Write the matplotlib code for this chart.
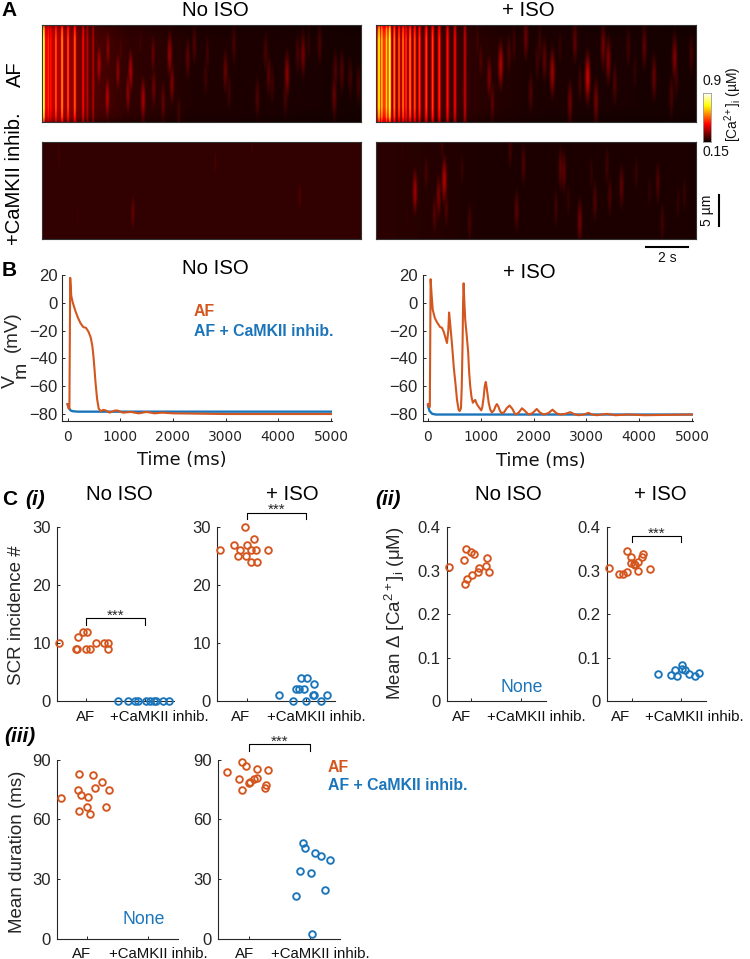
import numpy as np
import matplotlib
matplotlib.use('Agg')
import matplotlib.pyplot as plt

plt.rcParams['font.family'] = ['Liberation Sans', 'DejaVu Sans']
plt.rcParams['mathtext.default'] = 'regular'
W, H = 750, 959
ORANGE = '#D4561F'
BLUE = '#1B75BB'
DARK = '#262626'

# ---- Panel A: line-scan content (time s, level 0-1 on the hot scale) ----
af_env_t = [0, 0.5, 1.5, 2.5, 4, 7, 15]
af_env_v = [0.38, 0.28, 0.17, 0.10, 0.06, 0.035, 0.02]
af_stripe_t = [0.06, 0.27, 0.39, 0.63, 0.92, 1.2, 1.52, 1.91, 2.11, 2.38]
af_stripe_v = [0.80, 0.44, 0.40, 0.50, 0.58, 0.48, 0.50, 0.36, 0.26, 0.24]
af_spark_t = [2.66, 3.08, 3.05, 3.55, 4.14, 4.02, 4.73, 5.2, 5.23, 5.98, 6.09, 5.67, 2.39, 1.8, 6.83, 7.14, 3.67, 4.61, 2.73, 6.41,
              9.0, 7.75, 8.6, 10.49, 10.64, 11.5, 11.42, 12.25, 12.0, 13.03, 10.1, 13.77, 14.08, 13.72, 14.47, 14.86, 8.77, 7.67, 12.52, 10.8]
af_spark_y = [.41, .25, .75, .48, .48, .7, .77, .3, .65, .3, .6, .79, .61, .68, .34, .2, .25, .18, .1, .89,
              .2, .3, .48, .28, .51, .51, .73, .3, .3, .2, .75, .48, .48, .73, .54, .61, .68, .54, .2, .61]
af_spark_v = [.24, .18, .24, .18, .22, .18, .22, .13, .14, .2, .16, .13, .2, .16, .12, .10, .10, .08, .08, .08,
              .09, .08, .13, .09, .11, .18, .09, .15, .09, .09, .10, .10, .10, .13, .08, .08, .08, .08, .06, .08]

iso_env_t = [0, 0.65, 0.75, 2, 3.5, 5, 7, 15]
iso_env_v = [0.45, 0.45, 0.18, 0.12, 0.07, 0.045, 0.03, 0.02]
iso_stripe_t = [.12, .25, .47, .62, .84, 1.06, 1.25, 1.39, 1.58, 1.8, 2.02, 2.34, 2.64, 2.95, 3.34, 3.69, 4.16]
iso_stripe_v = [.75, .68, .70, .82, .56, .50, .54, .44, .54, .48, .44, .46, .46, .42, .38, .34, .27]
iso_spark_t = [5.84, 5.3, 5.45, 4.13, 4.9, 6.23, 7.02, 7.25, 6.47, 4.75, 7.56,
               8.27, 7.9, 9.33, 9.93, 9.1, 10.32, 10.66, 10.9, 11.21, 12.59, 13.05, 14.02, 14.8, 13.87, 8.63, 9.57, 7.68, 11.84, 12.15, 14.1]
iso_spark_y = [.41, .54, .79, .68, .37, .3, .13, .7, .2, .17, .37,
               .49, .36, .17, .54, .8, .79, .22, .36, .61, .22, .54, .34, .3, .73, .23, .6, .2, .23, .48, .54]
iso_spark_v = [.24, .16, .12, .16, .10, .10, .14, .10, .08, .08, .08,
               .21, .12, .12, .28, .14, .15, .15, .17, .10, .12, .13, .17, .08, .09, .06, .08, .08, .08, .06, .08]

inh_env_t = [0, 15]
inh_env_v = [0.06, 0.06]
inh_spark_t = [4.25, 12.1, 8.12, .78, 9.84, 1.64]
inh_spark_y = [.73, .56, .21, .13, .04, .77]
inh_spark_v = [.13, .10, .09, .085, .08, .075]

inhiso_env_t = [0, 3, 5, 15]
inhiso_env_v = [0.05, 0.04, 0.03, 0.03]
inhiso_spark_t = [1.81, 3.19, 2.92, 2.73, 3.28, 2.33, 4.38, 6.59, 6.91, 6.28, 8.66, 8.81, 8.44, 9.56, 10.27, 10.97, 11.52, 10.84,
                  13.23, 12.22, 12.84, 13.44, 14.48, 14.17, 1.2, 4.02, 1.44, 3.08, 10.1, 9.02]
inhiso_spark_y = [.51, .39, .56, .75, .68, .32, .83, .71, .23, .08, .27, .3, .68, .82, .61, .56, .46, .25,
                  .42, .32, .51, .83, .54, .63, .08, .28, .78, .02, .32, .61]
inhiso_spark_v = [.21, .24, .16, .11, .10, .09, .09, .11, .10, .08, .12, .12, .08, .15, .10, .09, .12, .08,
                  .10, .065, .06, .08, .065, .06, .06, .065, .06, .08, .06, .06]
taper_y = [0, .04, .15, .85, .95, 1]
taper_v = [.65, .85, 1, 1, .85, .6]

# ---- Panel B: membrane potential traces ----
af_t = [0, 20, 35, 50, 70, 100, 150, 200, 250, 300, 350, 400, 440, 470, 490, 510, 530, 560, 590, 630, 680, 730, 800, 900, 950, 1050, 1200, 1350, 1500, 1650, 1800, 2000, 3000, 5000]
af_v = [-73, -76, -76, 18, 5, 0, -6, -11, -15, -17.5, -18, -21, -25, -31, -38, -47, -57, -69, -76, -78, -77, -77.5, -79, -77.5, -77.5, -79, -78.5, -79.5, -78.5, -79.5, -79, -79.5, -80, -80]
inh_t = [0, 30, 60, 100, 200, 5000]
inh_v = [-73, -76, -77.5, -78, -78.3, -78.3]
afiso_t = [0, 20, 35, 50, 70, 90, 130, 170, 230, 265, 300, 330, 360, 385, 400, 420, 455, 490, 520, 550, 580, 600, 625, 640, 655, 665, 675, 690, 705, 730, 760, 780, 800, 825, 850, 870, 895, 925, 960, 1010, 1030, 1055, 1075, 1095, 1115, 1150, 1180, 1210, 1250, 1280, 1305, 1330, 1360, 1390, 1440, 1490, 1545, 1600, 1640, 1665, 1720, 1780, 1840, 1905, 1980, 2060, 2120, 2190, 2280, 2360, 2430, 2505, 2600, 2695, 2770, 2850, 2950, 3040, 3110, 3200, 3380, 3550, 3800, 4100, 5000]
afiso_v = [-73, -75, -75, 17, 5, -5, -11, -14, -17.5, -18, -21, -25, -29, -20, -7, -15, -30, -47, -58, -70, -77, -78, -76, -60, -30, 0, 14, 0, -12, -22, -35, -50, -60, -68, -72, -71, -70, -73, -75, -77.5, -75, -68, -60, -57, -62, -72, -77, -79, -77.5, -74.5, -73, -74.5, -77.5, -79.5, -79, -76, -74, -76.5, -79.5, -80.5, -79, -76, -78, -80.5, -79.5, -76.5, -79, -80.5, -79.5, -77, -79.5, -80.5, -80, -78.8, -80.2, -81, -80.5, -79.3, -80.5, -81, -80, -81, -80.5, -81, -80.5]
inhiso_t = [0, 30, 80, 150, 5000]
inhiso_v = [-74, -78, -80, -80.5, -80.5]

# ---- Panel C: scatter data (x = 1 AF, 2 +CaMKII inhib.) ----
scr_no_af_x = [.54, .86, .95, 1.01, .82, .85, .99, 1.07, 1.16, 1.30, 1.37, 1.37]
scr_no_af_y = [10, 11, 12, 12, 9, 9, 9, 9, 10, 10, 10, 9]
scr_no_in_x = [1.55, 1.72, 1.84, 1.89, 2.02, 2.09, 2.16, 2.20, 2.32, 2.41]
scr_no_in_y = [0] * 10
scr_iso_af_x = [.55, .78, .89, .86, 1.01, .97, .99, 1.07, 1.15, 1.12, 1.08, 1.18, 1.37]
scr_iso_af_y = [26, 27, 26, 25, 27, 30, 25, 26, 26, 28, 24, 24, 26]
scr_iso_in_x = [1.54, 1.78, 1.83, 1.88, 1.92, 2.02, 1.98, 2.0, 2.15, 2.12, 2.15, 2.26, 2.37]
scr_iso_in_y = [1, 0, 2, 2, 4, 4, 2, 0, 3, 1, 1, 0, 1]

dca_no_af_x = [.55, .85, .89, 1.0, 1.05, 1.31, 1.30, 1.36, 1.16, 1.14, 1.01, .92, .88]
dca_no_af_y = [.309, .324, .349, .343, .339, .329, .311, .298, .306, .296, .29, .282, .27]
dca_iso_af_x = [.54, .74, .83, .90, .91, .99, .99, 1.05, 1.13, 1.14, 1.22, 1.24, 1.37, 1.08]
dca_iso_af_y = [.307, .293, .292, .297, .345, .331, .318, .316, .321, .30, .331, .339, .303, .313]
dca_iso_in_x = [1.54, 1.80, 1.87, 1.91, 2.01, 2.01, 2.08, 2.15, 2.27, 2.36]
dca_iso_in_y = [.063, .06, .071, .058, .084, .074, .072, .062, .058, .064]

dur_no_af_x = [.56, .85, .86, .90, .87, 1.0, 1.02, 1.05, 1.09, 1.13, 1.24, 1.31, 1.36]
dur_no_af_y = [70.6, 74.9, 82.8, 72.4, 64.4, 66.4, 71, 62.8, 82.5, 75.9, 78.6, 66, 74.9]
dur_iso_af_x = [.65, .84, .89, .95, .89, 1.0, 1.02, 1.08, 1.14, 1.13, 1.31, 1.28, 1.27]
dur_iso_af_y = [84, 80.1, 88.7, 87, 75, 78.4, 78.6, 80.1, 80.8, 85.1, 84.6, 77.1, 75.6]
dur_iso_in_x = [1.78, 1.84, 1.89, 1.92, 2.02, 2.09, 2.18, 2.33, 2.26, 2.04]
dur_iso_in_y = [21.6, 34.2, 48.1, 45.8, 32.8, 43.1, 41.7, 39.4, 24.6, 2.3]

x_tick_pos = [1, 2]
group_labels = ['AF', '+CaMKII inhib.']

fig = plt.figure(figsize=(W / 100, H / 100), dpi=100, facecolor='white')


def px_axes(x0, y0, x1, y1):
    return fig.add_axes([x0 / W, 1 - y1 / H, (x1 - x0) / W, (y1 - y0) / H])


def T(x, y, s, **kw):
    kw.setdefault('ha', 'center')
    kw.setdefault('va', 'center')
    return fig.text(x / W, 1 - y / H, s, **kw)


def scan(rect, env_t, env_v, stripe_t, stripe_v, spark_t, spark_y, spark_v, taper=True):
    ax = px_axes(*rect)
    tt = np.linspace(0, 15, 320)
    yy = np.linspace(0, 1, 97)
    prof = np.interp(yy, taper_y, taper_v) if taper else np.ones_like(yy)
    field = np.outer(prof, np.interp(tt, env_t, env_v))
    for t, v in zip(stripe_t, stripe_v):
        field = np.maximum(field, np.outer(prof, v * np.exp(-0.5 * ((tt - t) / 0.06) ** 2)))
    for t, y, v in zip(spark_t, spark_y, spark_v):
        g = v * np.outer(np.exp(-0.5 * ((yy - y) / 0.16) ** 2), np.exp(-0.5 * ((tt - t) / 0.09) ** 2))
        field = np.maximum(field, g)
    ax.imshow(field, cmap='hot', vmin=0, vmax=1, aspect='auto', interpolation='bilinear', extent=[0, 15, 1, 0])
    ax.set_xticks([])
    ax.set_yticks([])
    for s in ax.spines.values():
        s.set_linewidth(0.8)
        s.set_color('#333333')
    return ax


scan((41.5, 25, 361, 122), af_env_t, af_env_v, af_stripe_t, af_stripe_v, af_spark_t, af_spark_y, af_spark_v)
scan((376, 25, 696, 122), iso_env_t, iso_env_v, iso_stripe_t, iso_stripe_v, iso_spark_t, iso_spark_y, iso_spark_v)
scan((41.5, 142, 361, 239), inh_env_t, inh_env_v, [], [], inh_spark_t, inh_spark_y, inh_spark_v, taper=False)
scan((376, 142, 696, 239), inhiso_env_t, inhiso_env_v, [], [], inhiso_spark_t, inhiso_spark_y, inhiso_spark_v, taper=False)

cax = px_axes(702.5, 93, 710.5, 142)
cax.imshow(np.linspace(1, 0, 200)[:, None], cmap='hot', aspect='auto', vmin=0, vmax=1)
cax.set_xticks([])
cax.set_yticks([])
for s in cax.spines.values():
    s.set_linewidth(0.6)
    s.set_color('#999999')

T(712, 81, '0.9', fontsize=10, color='#111111')
T(716, 152, '0.15', fontsize=10, color='#111111')
T(733, 104, '[Ca$^{2\\!+}$]$_{i}$ (µM)', rotation=90, fontsize=10, color='#111111')
T(707, 210, '5 µm', rotation=90, fontsize=10, color='#111111')
T(667, 258, '2 s', fontsize=10, color='#111111')
fig.add_artist(plt.Line2D([719 / W, 719 / W], [1 - 195 / H, 1 - 226 / H], color='black', lw=1.5))
fig.add_artist(plt.Line2D([645.7 / W, 688 / W], [1 - 247 / H, 1 - 247 / H], color='black', lw=1.5))

T(9.5, 11, 'A', fontsize=15, fontweight='bold')
T(9.5, 270, 'B', fontsize=15, fontweight='bold')
T(10, 499, 'C', fontsize=15, fontweight='bold')
T(35, 499, '(i)', fontsize=15, fontweight='bold', fontstyle='italic')
T(388, 499, '(ii)', fontsize=15, fontweight='bold', fontstyle='italic')
T(20, 736, '(iii)', fontsize=15, fontweight='bold', fontstyle='italic')

T(215, 10, 'No ISO', fontsize=14.7)
T(528, 10, '+ ISO', fontsize=14.7)
T(15, 74, 'AF', rotation=90, fontsize=14.5)
T(15, 179, '+CaMKII inhib.', rotation=90, fontsize=14.5)


def style(ax, pad_y):
    for s in ('top', 'right'):
        ax.spines[s].set_visible(False)
    for s in ('left', 'bottom'):
        ax.spines[s].set_linewidth(0.8)
        ax.spines[s].set_color(DARK)
    ax.tick_params(direction='in', length=2.5, width=0.7, color=DARK, labelcolor=DARK, labelsize=12)
    ax.tick_params(axis='y', pad=pad_y)
    ax.patch.set_alpha(0)


def trace_axes(rect, t1, v1, t2, v2):
    ax = px_axes(*rect)
    ax.plot(t2, v2, color=BLUE, lw=1.7)
    ax.plot(t1, v1, color=ORANGE, lw=1.5)
    ax.set_xlim(-100, 5020)
    ax.set_ylim(-84.8, 20)
    ax.set_xticks(range(0, 5001, 1000))
    ax.set_yticks(range(-80, 21, 20))
    style(ax, 3.5)
    ax.tick_params(axis='x', pad=7)
    for lab in ax.get_xticklabels():
        lab.set_fontfamily('DejaVu Sans')
        lab.set_fontsize(10)
    return ax


trace_axes((62.3, 275, 332, 420.7), af_t, af_v, inh_t, inh_v)
trace_axes((422.7, 275, 693, 420.5), afiso_t, afiso_v, inhiso_t, inhiso_v)
T(182, 460, 'Time (ms)', fontsize=12.8, family='DejaVu Sans', color='#111111')
T(541, 461, 'Time (ms)', fontsize=12.8, family='DejaVu Sans', color='#111111')
T(215, 268, 'No ISO', fontsize=14.7)
T(529, 272, '+ ISO', fontsize=14.7)
T(10, 381, 'V', rotation=90, fontsize=14, color=DARK)
T(21, 370, 'm', rotation=90, fontsize=14, color=DARK)
T(12, 332, '(mV)', rotation=90, fontsize=13.5, color=DARK)
T(194, 312, 'AF', fontsize=11.4, fontweight='bold', color=ORANGE, ha='left')
T(194, 332, 'AF + CaMKII inhib.', fontsize=11.4, fontweight='bold', color=BLUE, ha='left')

T(119, 494, 'No ISO', fontsize=14.7)
T(292, 494, '+ ISO', fontsize=14.7)
T(508, 494, 'No ISO', fontsize=14.7)
T(660, 494, '+ ISO', fontsize=14.7)


def scatter_axes(rect, ymax, yticks, ytlabels, af, inh=None, bracket=None, stars=None):
    ax = px_axes(*rect)
    ax.plot(af[0], af[1], 'o', mfc='none', mec=ORANGE, ms=4.8, mew=1.35, clip_on=False, zorder=3)
    if inh is not None:
        ax.plot(inh[0], inh[1], 'o', mfc='none', mec=BLUE, ms=4.8, mew=1.35, clip_on=False, zorder=3)
    ax.set_xlim(0.5, 2.5)
    ax.set_ylim(0, ymax)
    ax.set_xticks(x_tick_pos)
    ax.set_xticklabels([])
    ax.set_yticks(yticks)
    ax.set_yticklabels(ytlabels)
    style(ax, 4.5)
    if bracket is not None:
        ax.plot([1, 1, 2, 2], [bracket[1], bracket[0], bracket[0], bracket[1]], color='black', lw=0.8, clip_on=False)
        ax.text(1.5, stars, '***', ha='center', va='center', fontsize=11, clip_on=False, color=DARK)
    return ax


scatter_axes((57, 527.3, 174, 701), 30, [0, 10, 20, 30], ['0', '10', '20', '30'],
             (scr_no_af_x, scr_no_af_y), (scr_no_in_x, scr_no_in_y), (14.3, 13.2), 14.8)
scatter_axes((217.3, 527.3, 335, 701), 30, [0, 10, 20, 30], ['0', '10', '20', '30'],
             (scr_iso_af_x, scr_iso_af_y), (scr_iso_in_x, scr_iso_in_y), (32.5, 31.4), 33.0)
scatter_axes((446.7, 527.3, 545.5, 701), 0.4, [0, .1, .2, .3, .4], ['0', '0.1', '0.2', '0.3', '0.4'],
             (dca_no_af_x, dca_no_af_y))
scatter_axes((606.7, 527.3, 706, 701), 0.4, [0, .1, .2, .3, .4], ['0', '0.1', '0.2', '0.3', '0.4'],
             (dca_iso_af_x, dca_iso_af_y), (dca_iso_in_x, dca_iso_in_y), (.379, .366), .386)
scatter_axes((57, 759.7, 178, 938.7), 90, [0, 30, 60, 90], ['0', '30', '60', '90'],
             (dur_no_af_x, dur_no_af_y))
scatter_axes((218.3, 759.7, 340, 938.7), 90, [0, 30, 60, 90], ['0', '30', '60', '90'],
             (dur_iso_af_x, dur_iso_af_y), (dur_iso_in_x, dur_iso_in_y), (97.7, 94.3), 99)

for y, centers in ((717, (86, 159, 241, 316, 462, 536, 621, 694)), (953.5, (82, 158, 245, 320))):
    for i, c in enumerate(centers):
        T(c, y, group_labels[i % 2], fontsize=10.8, color='#111111')

T(17, 615, 'SCR incidence #', rotation=90, fontsize=13.5, color=DARK)
T(395, 613, r'Mean $\Delta$ [Ca$^{2+}$]$_{i}$ ($\mu$M)', rotation=90, fontsize=13.5, color=DARK)
T(18, 852, 'Mean duration (ms)', rotation=90, fontsize=13.5, color=DARK)
T(522, 687, 'None', fontsize=12.7, color=BLUE)
T(144, 919, 'None', fontsize=12.7, color=BLUE)
T(328, 767, 'AF', fontsize=11.4, fontweight='bold', color=ORANGE, ha='left')
T(328, 786, 'AF + CaMKII inhib.', fontsize=11.4, fontweight='bold', color=BLUE, ha='left')

fig.savefig('out.png', dpi=100)
